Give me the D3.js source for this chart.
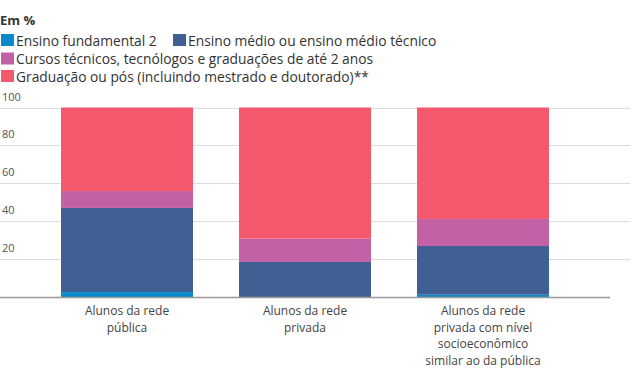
<!DOCTYPE html>
<html>
<head>
<meta charset="utf-8">
<script src="https://cdn.jsdelivr.net/npm/d3@7"></script>
<style>
  body { margin: 0; background: #fff; }
  svg { font-family: "Open Sans", "Noto Sans", sans-serif; }
</style>
</head>
<body>
<div id="chart"></div>
<script>
const categories = [
    ["Alunos da rede", "pública"],
    ["Alunos da rede", "privada"],
    ["Alunos da rede", "privada com nível", "socioeconômico", "similar ao da pública"]
];
const seriesNames = [
    "Ensino fundamental 2",
    "Ensino médio ou ensino médio técnico",
    "Cursos técnicos, tecnólogos e graduações de até 2 anos",
    "Graduação ou pós (incluindo mestrado e doutorado)**"
];
const fundamental = [2.6, 0, 1.2];
const medio = [44.4, 18.5, 25.7];
const cursos = [8.9, 12.3, 14.3];
const graduacao = [44.1, 69.2, 58.8];
const yTicks = [20, 40, 60, 80, 100];
const colors = ["#0a8acb", "#405f93", "#c261a5", "#f3586c"];

const W = 632, H = 378;
const svg = d3.select("#chart").append("svg").attr("width", W).attr("height", H);

const rows = categories.map((c, i) => ({
    i: i,
    [seriesNames[0]]: fundamental[i],
    [seriesNames[1]]: medio[i],
    [seriesNames[2]]: cursos[i],
    [seriesNames[3]]: graduacao[i]
}));
const stacked = d3.stack().keys(seriesNames)(rows);

const x = d3.scaleBand().domain(d3.range(categories.length))
    .range([38, 572]).paddingInner(46 / 178).paddingOuter(23 / 178);
const y = d3.scaleLinear().domain([0, 100]).range([297, 107.5]);

// grid
svg.append("g").selectAll("line").data(yTicks).enter().append("line")
    .attr("x1", 0).attr("x2", 630)
    .attr("y1", d => Math.round(y(d)) + 0.5).attr("y2", d => Math.round(y(d)) + 0.5)
    .attr("stroke", "#dcdcdc").attr("stroke-width", 1);

svg.append("g").selectAll("text").data(yTicks).enter().append("text")
    .attr("x", 2).attr("y", d => y(d) - 7)
    .text(d => d)
    .style("font-size", "11px").style("fill", "#555");

// bars
svg.append("g").selectAll("g").data(stacked).enter().append("g")
    .attr("fill", (d, i) => colors[i])
    .selectAll("rect").data(d => d).enter().append("rect")
    .attr("x", d => x(d.data.i))
    .attr("width", x.bandwidth())
    .attr("y", d => y(d[1]))
    .attr("height", d => y(d[0]) - y(d[1]));

// baseline
svg.append("line")
    .attr("x1", 0).attr("x2", 610).attr("y1", 297.5).attr("y2", 297.5)
    .attr("stroke", "#999").attr("stroke-width", 1.5);

// category labels
categories.forEach((lines, i) => {
    const t = svg.append("text")
        .attr("x", x(i) + x.bandwidth() / 2).attr("y", 315)
        .style("text-anchor", "middle").style("font-size", "12px").style("fill", "#444");
    lines.forEach((l, j) => {
        t.append("tspan").attr("x", x(i) + x.bandwidth() / 2).attr("dy", j === 0 ? 0 : 16.5).text(l);
    });
});

// title + legend
svg.append("text").attr("x", 0).attr("y", 25).text("Em %")
    .style("font-size", "13px").style("font-weight", "bold").style("fill", "#333");

const legendPos = [[1, 34], [173, 34], [1, 52.5], [1, 70]];
seriesNames.forEach((name, i) => {
    svg.append("rect")
        .attr("x", legendPos[i][0]).attr("y", legendPos[i][1])
        .attr("width", 13).attr("height", 12)
        .style("fill", colors[i]);
    svg.append("text")
        .attr("x", legendPos[i][0] + 15).attr("y", legendPos[i][1] + 11.5)
        .text(name)
        .style("font-size", "13.8px").style("fill", "#333");
});
</script>
</body>
</html>
